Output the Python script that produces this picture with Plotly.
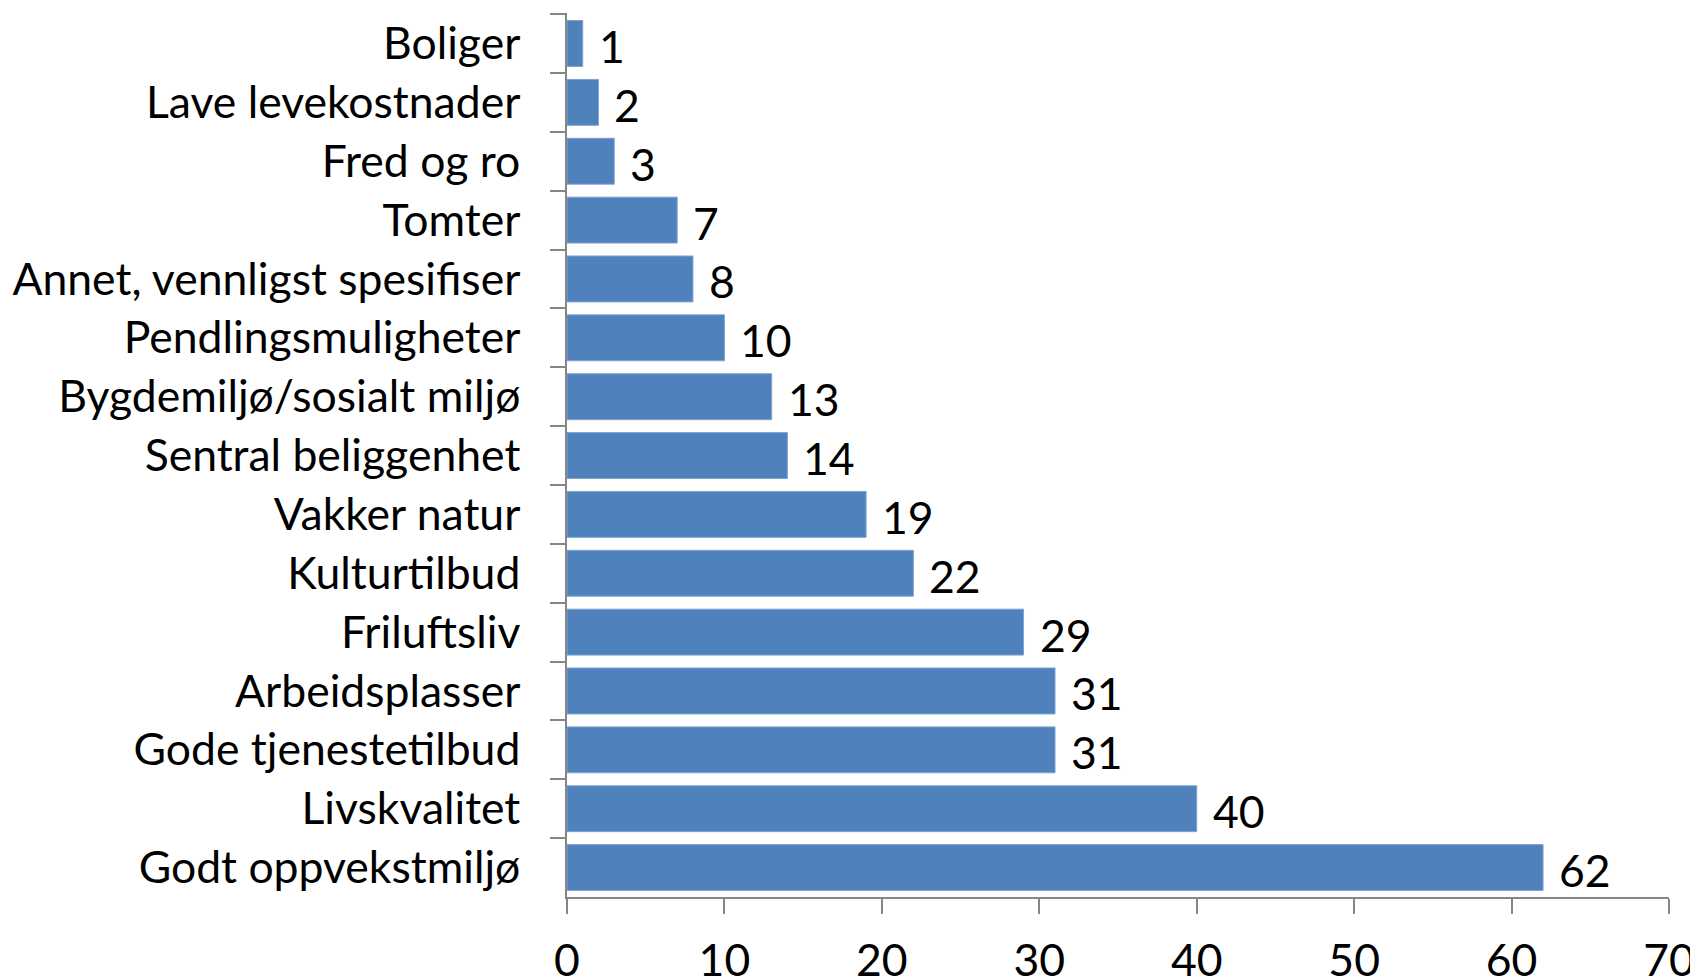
import plotly.graph_objects as go

categories = ["Boliger", "Lave levekostnader", "Fred og ro", "Tomter",
              "Annet, vennligst spesifiser", "Pendlingsmuligheter",
              "Bygdemiljø/sosialt miljø", "Sentral beliggenhet", "Vakker natur",
              "Kulturtilbud", "Friluftsliv", "Arbeidsplasser",
              "Gode tjenestetilbud", "Livskvalitet", "Godt oppvekstmiljø"]
values = [1, 2, 3, 7, 8, 10, 13, 14, 19, 22, 29, 31, 31, 40, 62]
x_ticks = [0, 10, 20, 30, 40, 50, 60, 70]

FONT = "Lato"
SIZE = 44.5

fig = go.Figure(go.Bar(
    y=categories, x=values, orientation="h",
    marker=dict(color="#4F81BD", line=dict(color="#7FA3D0", width=1)),
))

for cat, v in zip(categories, values):
    fig.add_annotation(x=v, y=cat, text=str(v), showarrow=False,
                       xanchor="left", yanchor="middle", xshift=14, yshift=-2,
                       font=dict(family=FONT, size=SIZE, color="black"))

fig.update_layout(
    width=1698, height=977,
    margin=dict(l=559, r=37, t=5, b=88),
    paper_bgcolor="white", plot_bgcolor="white",
    bargap=0.22,
    showlegend=False,
    font=dict(family=FONT, size=SIZE, color="black"),
)
fig.update_xaxes(
    range=[0, 70], tickvals=x_ticks, ticktext=[str(t) for t in x_ticks],
    showgrid=False, zeroline=False, automargin=False,
    showline=True, linecolor="#868686", linewidth=1.5,
    ticks="outside", ticklen=15, tickcolor="#868686", tickwidth=1.5,
    tickfont=dict(family=FONT, size=SIZE, color="black"),
    ticklabelstandoff=9,
)
fig.update_yaxes(
    autorange="reversed", type="category", automargin=False,
    showgrid=False, zeroline=False,
    showline=True, linecolor="#868686", linewidth=1.5,
    ticks="outside", ticklen=15, tickcolor="#868686", tickwidth=1.5,
    tickson="boundaries",
    tickfont=dict(family=FONT, size=SIZE, color="black"),
    ticklabelstandoff=36,
)

fig.write_html("out.html")
